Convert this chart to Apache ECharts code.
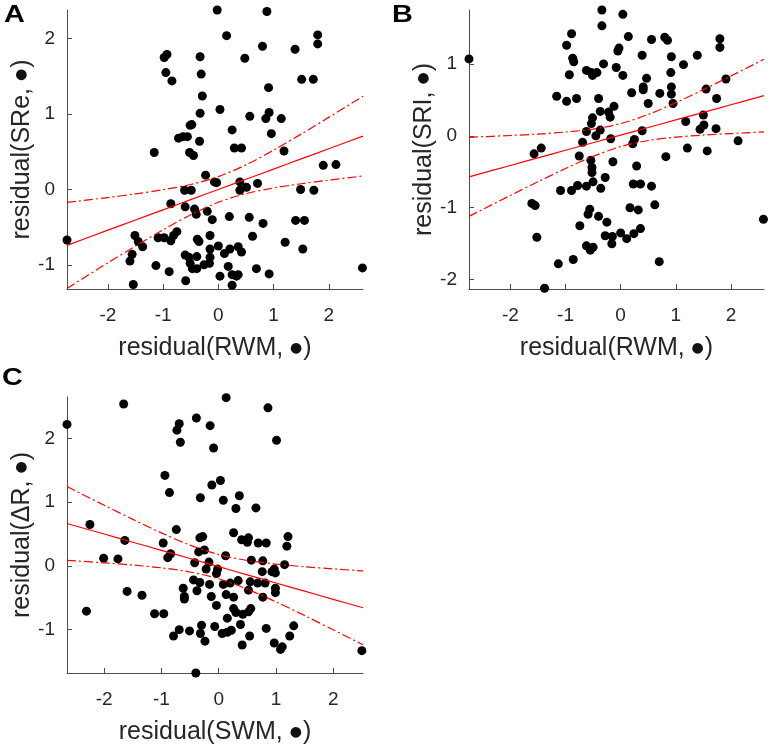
<!DOCTYPE html>
<html>
<head>
<meta charset="utf-8">
<script src="https://cdn.jsdelivr.net/npm/echarts@6/dist/echarts.min.js"></script>
<style>html,body{margin:0;padding:0;background:#fff}#c{width:770px;height:749px}</style>
</head>
<body>
<div id="c"></div>
<script>
// ---- Panel A: residual(RWM) vs residual(SRe)
const aX = [-0.02,0.88,0.15,1.80,1.80,0.80,1.39,-0.98,-0.93,-0.33,
 0.48,-0.95,-0.31,-0.84,1.51,1.72,-0.29,0.91,0.03,-0.33,
 0.57,0.86,0.92,1.14,0.25,0.96,-0.48,-0.51,-1.16,-0.72,
 -0.64,-0.56,-0.34,-0.52,-0.45,0.29,0.42,1.19,1.90,2.13,
 -0.23,-0.07,-0.03,0.39,0.39,0.51,0.71,-0.61,-0.49,1.49,
 1.73,-0.86,-0.60,-0.43,-0.40,-0.20,-0.11,0.20,0.56,0.81,
 1.40,1.56,-2.74,-1.51,-1.45,-1.37,-1.09,-0.98,-0.86,-0.81,
 -0.75,-0.38,-0.35,-0.15,0.62,1.21,-1.56,-1.60,-1.13,-0.89,
 -0.60,-0.53,-0.51,-0.47,-0.39,-0.39,-0.26,-0.15,-0.15,0.00,
 0.11,0.21,0.36,0.42,0.18,0.03,0.25,0.36,0.69,0.92,
 1.53,2.61,-1.54,-0.59,0.25,0.33,-0.16];
const aY = [2.38,2.36,2.04,2.05,1.93,1.90,1.86,1.75,1.79,1.76,
 1.74,1.55,1.53,1.44,1.46,1.46,1.24,1.35,1.06,1.01,
 0.97,0.94,1.02,0.94,0.79,0.74,0.86,0.85,0.49,0.68,
 0.70,0.70,0.64,0.49,0.45,0.55,0.55,0.51,0.32,0.33,
 0.19,0.10,0.09,0.10,-0.01,0.03,0.08,-0.01,-0.01,0.00,
 -0.01,-0.19,-0.23,-0.26,-0.33,-0.29,-0.40,-0.36,-0.37,-0.45,
 -0.41,-0.41,-0.67,-0.61,-0.69,-0.76,-0.64,-0.64,-0.68,-0.61,
 -0.56,-0.66,-0.69,-0.61,-0.62,-0.70,-0.86,-0.95,-1.01,-1.09,
 -0.87,-0.90,-0.98,-1.05,-1.05,-0.89,-1.00,-0.90,-0.79,-0.75,
 -0.85,-0.79,-0.76,-0.83,-1.02,-1.15,-1.13,-1.13,-1.05,-1.12,
 -0.79,-1.04,-1.26,-1.21,-1.27,-1.15,-0.98];
const aFitX = [-2.74,-2,-1.5,-1,-0.5,0,0.5,1,1.5,2,2.62];
const aFit  = [-0.742,-0.54,-0.405,-0.27,-0.135,0,0.135,0.27,0.405,0.54,0.707];
const aUp   = [-0.172,-0.107,-0.059,-0.004,0.066,0.170,0.326,0.521,0.734,0.956,1.235];
const aLo   = [-1.312,-0.973,-0.751,-0.536,-0.336,-0.170,-0.056,0.019,0.076,0.124,0.179];

// ---- Panel B: residual(RWM) vs residual(SRI)
const bX = [-2.75,-0.34,-0.34,0.04,-0.89,0.14,0.56,0.80,0.85,1.80,
 1.80,-0.98,-0.03,-0.05,-0.87,-0.85,0.39,0.92,1.39,1.14,
 -0.31,-0.08,0.04,-0.62,-0.53,-0.43,-0.51,-0.93,0.91,0.47,
 0.41,0.41,0.20,0.71,0.92,0.92,0.95,1.91,1.55,1.74,
 -1.16,-0.98,-0.80,-0.40,0.50,-0.37,-0.22,-0.12,-0.19,-0.51,
 -0.53,1.50,1.51,1.44,1.18,1.73,-0.62,-0.37,-0.45,-0.18,
 0.39,0.25,0.22,-0.69,2.13,1.21,1.57,-1.57,-1.44,-0.75,
 -0.54,-0.52,-0.52,-0.50,-0.36,-0.28,-0.14,0.29,0.82,-1.09,
 -0.89,-0.78,-0.62,0.23,0.36,0.56,-1.61,-1.55,0.62,-0.56,
 -0.59,0.17,0.32,-0.40,-0.74,-0.25,-1.52,-0.28,-0.15,0.00,
 0.11,0.24,0.36,-0.62,-0.55,-0.50,-0.16,-1.13,-0.86,0.70,
 -1.38,2.59];
const bY = [1.07,1.75,1.53,1.69,1.42,1.38,1.34,1.37,1.33,1.35,
 1.23,1.26,1.22,1.18,1.08,1.03,1.12,1.10,1.12,0.99,
 1.00,0.95,0.84,0.91,0.88,0.88,0.84,0.85,0.88,0.80,
 0.68,0.64,0.60,0.59,0.68,0.58,0.45,0.79,0.65,0.52,
 0.55,0.48,0.52,0.52,0.45,0.34,0.33,0.41,0.26,0.25,
 0.17,0.29,0.15,0.09,0.20,0.10,0.06,0.08,0.00,-0.04,
 0.07,-0.05,-0.11,-0.09,-0.07,-0.17,-0.21,-0.25,-0.17,-0.28,
 -0.34,-0.44,-0.51,-0.64,-0.73,-0.58,-0.36,-0.42,-0.29,-0.76,
 -0.76,-0.69,-0.70,-0.67,-0.67,-0.70,-0.94,-0.97,-0.96,-1.02,
 -1.09,-1.00,-1.03,-1.12,-1.25,-1.20,-1.41,-1.39,-1.40,-1.35,
 -1.43,-1.36,-1.29,-1.53,-1.59,-1.55,-1.50,-1.78,-1.72,-1.75,
 -2.12,-1.16];
const bFitX = [-2.75,-2,-1.5,-1,-0.5,0,0.5,1,1.5,2,2.6];
const bFit  = [-0.570,-0.412,-0.307,-0.201,-0.096,0.010,0.116,0.221,0.327,0.432,0.559];
const bUp   = [-0.020,0.005,0.025,0.053,0.094,0.170,0.297,0.461,0.643,0.832,1.064];
const bLo   = [-1.120,-0.829,-0.639,-0.455,-0.286,-0.150,-0.065,-0.019,0.011,0.032,0.054];

// ---- Panel C: residual(SWM) vs residual(ΔR)
const cX = [-2.65,-1.66,0.13,0.86,-0.39,-0.69,-0.73,-0.67,-0.15,-0.09,
 1.01,-0.94,-0.86,0.03,-0.12,-0.32,0.08,0.36,0.30,0.65,
 -2.25,-0.74,0.26,-1.64,-0.97,-0.33,-0.28,0.40,0.50,0.52,
 0.69,0.83,1.21,1.19,-2.01,-1.76,-0.89,-0.84,-0.35,-0.25,
 -0.42,-0.17,0.12,0.57,0.77,1.15,0.97,0.99,0.93,-0.22,
 -0.02,-0.04,0.76,-1.60,-1.34,-0.44,-0.33,-0.38,-0.16,0.08,
 0.20,0.34,0.55,0.52,0.68,0.81,-0.62,-0.60,-0.60,-0.13,
 0.13,0.26,0.77,0.99,0.99,-0.04,0.26,0.30,0.42,0.52,
 0.56,-2.31,-1.12,-0.96,0.15,0.38,-0.30,-0.32,-0.07,-0.51,
 -0.69,-0.79,-0.24,0.06,0.15,0.22,0.54,0.41,0.83,0.97,
 1.11,1.08,1.24,1.31,2.50,-0.40];
const cY = [2.22,2.54,2.64,2.48,2.32,2.23,2.13,1.94,2.20,1.85,
 1.97,1.42,1.15,1.34,1.27,1.07,1.03,1.10,0.90,0.91,
 0.65,0.57,0.52,0.40,0.36,0.44,0.46,0.41,0.37,0.44,
 0.36,0.36,0.46,0.31,0.12,0.11,0.13,0.19,0.22,0.25,
 0.05,0.06,0.16,0.09,0.08,0.02,-0.05,-0.11,-0.09,-0.05,
 -0.05,-0.12,-0.09,-0.40,-0.46,-0.22,-0.26,-0.39,-0.29,-0.29,
 -0.27,-0.23,-0.25,-0.38,-0.27,-0.27,-0.35,-0.48,-0.52,-0.48,
 -0.45,-0.49,-0.49,-0.35,-0.42,-0.62,-0.67,-0.73,-0.76,-0.72,
 -0.67,-0.71,-0.75,-0.75,-0.82,-0.92,-0.93,-1.06,-0.95,-1.02,
 -1.00,-1.10,-1.18,-1.06,-1.04,-1.01,-1.10,-1.24,-0.98,-1.21,
 -1.27,-1.31,-1.10,-0.94,-1.33,-1.68];
const cFitX = [-2.65,-2,-1.5,-1,-0.5,0,0.5,1,1.5,2,2.52];
const cFit  = [0.666,0.500,0.372,0.244,0.116,-0.012,-0.140,-0.268,-0.396,-0.524,-0.657];
const cUp   = [1.245,0.951,0.730,0.518,0.327,0.178,0.085,0.028,-0.013,-0.046,-0.079];
const cLo   = [0.087,0.049,0.014,-0.030,-0.095,-0.202,-0.365,-0.564,-0.779,-1.002,-1.236];

// ---- tick labels and texts
const xTicks = [-2,-1,0,1,2];
const aYTicks = [-1,0,1,2];
const bYTicks = [-2,-1,0,1];
const cYTicks = [-1,0,1,2];
const xNames = ['residual(RWM, {d|\u25CF})','residual(RWM, {d|\u25CF})','residual(SWM, {d|\u25CF})'];
const yNames = ['residual(SRe, {d|\u25CF})','residual(SRI, {d|\u25CF})','residual(\u0394R, {d|\u25CF})'];
const panelLetters = ['A','B','C'];

const FONT = "'Liberation Sans', Arial, sans-serif";
const AX = '#4d4d4d';
const TXT = '#262626';
const NAME_STYLE = {fontFamily:FONT, fontSize:25, color:TXT,
  rich:{d:{fontFamily:"'DejaVu Sans'", fontSize:14, color:'#111', verticalAlign:'middle', padding:[0,1,0,0]}}};

function pairs(xs, ys){ return xs.map((x,i)=>[x, ys[i]]); }

function xAxis(idx, min, max, name){
  return {type:'value', gridIndex:idx, min, max, name, nameLocation:'middle', nameGap:47,
    nameTextStyle:NAME_STYLE,
    axisLine:{show:true, onZero:false, lineStyle:{color:AX, width:1}},
    axisTick:{show:true, inside:true, length:5, customValues:xTicks, lineStyle:{color:AX}},
    axisLabel:{customValues:xTicks, fontFamily:FONT, fontSize:19, color:TXT, margin:17},
    splitLine:{show:false}};
}
function yAxis(idx, min, max, name, ticks){
  return {type:'value', gridIndex:idx, min, max, name, nameLocation:'middle', nameGap:31,
    nameTextStyle:NAME_STYLE,
    axisLine:{show:true, onZero:false, lineStyle:{color:AX, width:1}},
    axisTick:{show:true, inside:true, length:5, customValues:ticks, lineStyle:{color:AX}},
    axisLabel:{customValues:ticks, fontFamily:FONT, fontSize:19, color:TXT, margin:12},
    splitLine:{show:false}};
}
function scatter(i, xs, ys){
  return {type:'scatter', xAxisIndex:i, yAxisIndex:i, data:pairs(xs,ys), symbolSize:9,
    itemStyle:{color:'#000', opacity:1}, silent:true, z:2};
}
function line(i, xs, ys, dashed){
  return {type:'line', xAxisIndex:i, yAxisIndex:i, data:pairs(xs,ys), showSymbol:false, smooth:0.3,
    lineStyle:{color:'#ff0000', width:1.2, type: dashed ? [9,3,2,3] : 'solid'}, silent:true, z:3};
}
function letter(t, x, y){
  return {type:'text', x, y, scaleX:1.2, style:{text:t, font:"bold 24px "+FONT, fill:'#000'}};
}

const chart = echarts.init(document.getElementById('c'), null, {renderer:'canvas'});
chart.setOption({
  animation:false,
  backgroundColor:'#fff',
  textStyle:{fontFamily:FONT},
  grid:[
    {left:67, top:10, width:296, height:279},
    {left:469, top:10, width:295, height:279},
    {left:67, top:397, width:296, height:276}
  ],
  xAxis:[
    xAxis(0, -2.74, 2.62, xNames[0]),
    xAxis(1, -2.75, 2.60, xNames[1]),
    xAxis(2, -2.65, 2.52, xNames[2])
  ],
  yAxis:[
    yAxis(0, -1.32, 2.38, yNames[0], aYTicks),
    yAxis(1, -2.13, 1.75, yNames[1], bYTicks),
    yAxis(2, -1.68, 2.65, yNames[2], cYTicks)
  ],
  graphic:[
    letter(panelLetters[0], 4, 3),
    letter(panelLetters[1], 392, 3),
    letter(panelLetters[2], 2, 366)
  ],
  series:[
    scatter(0, aX, aY), line(0, aFitX, aFit, false), line(0, aFitX, aUp, true), line(0, aFitX, aLo, true),
    scatter(1, bX, bY), line(1, bFitX, bFit, false), line(1, bFitX, bUp, true), line(1, bFitX, bLo, true),
    scatter(2, cX, cY), line(2, cFitX, cFit, false), line(2, cFitX, cUp, true), line(2, cFitX, cLo, true)
  ]
});
</script>
</body>
</html>
